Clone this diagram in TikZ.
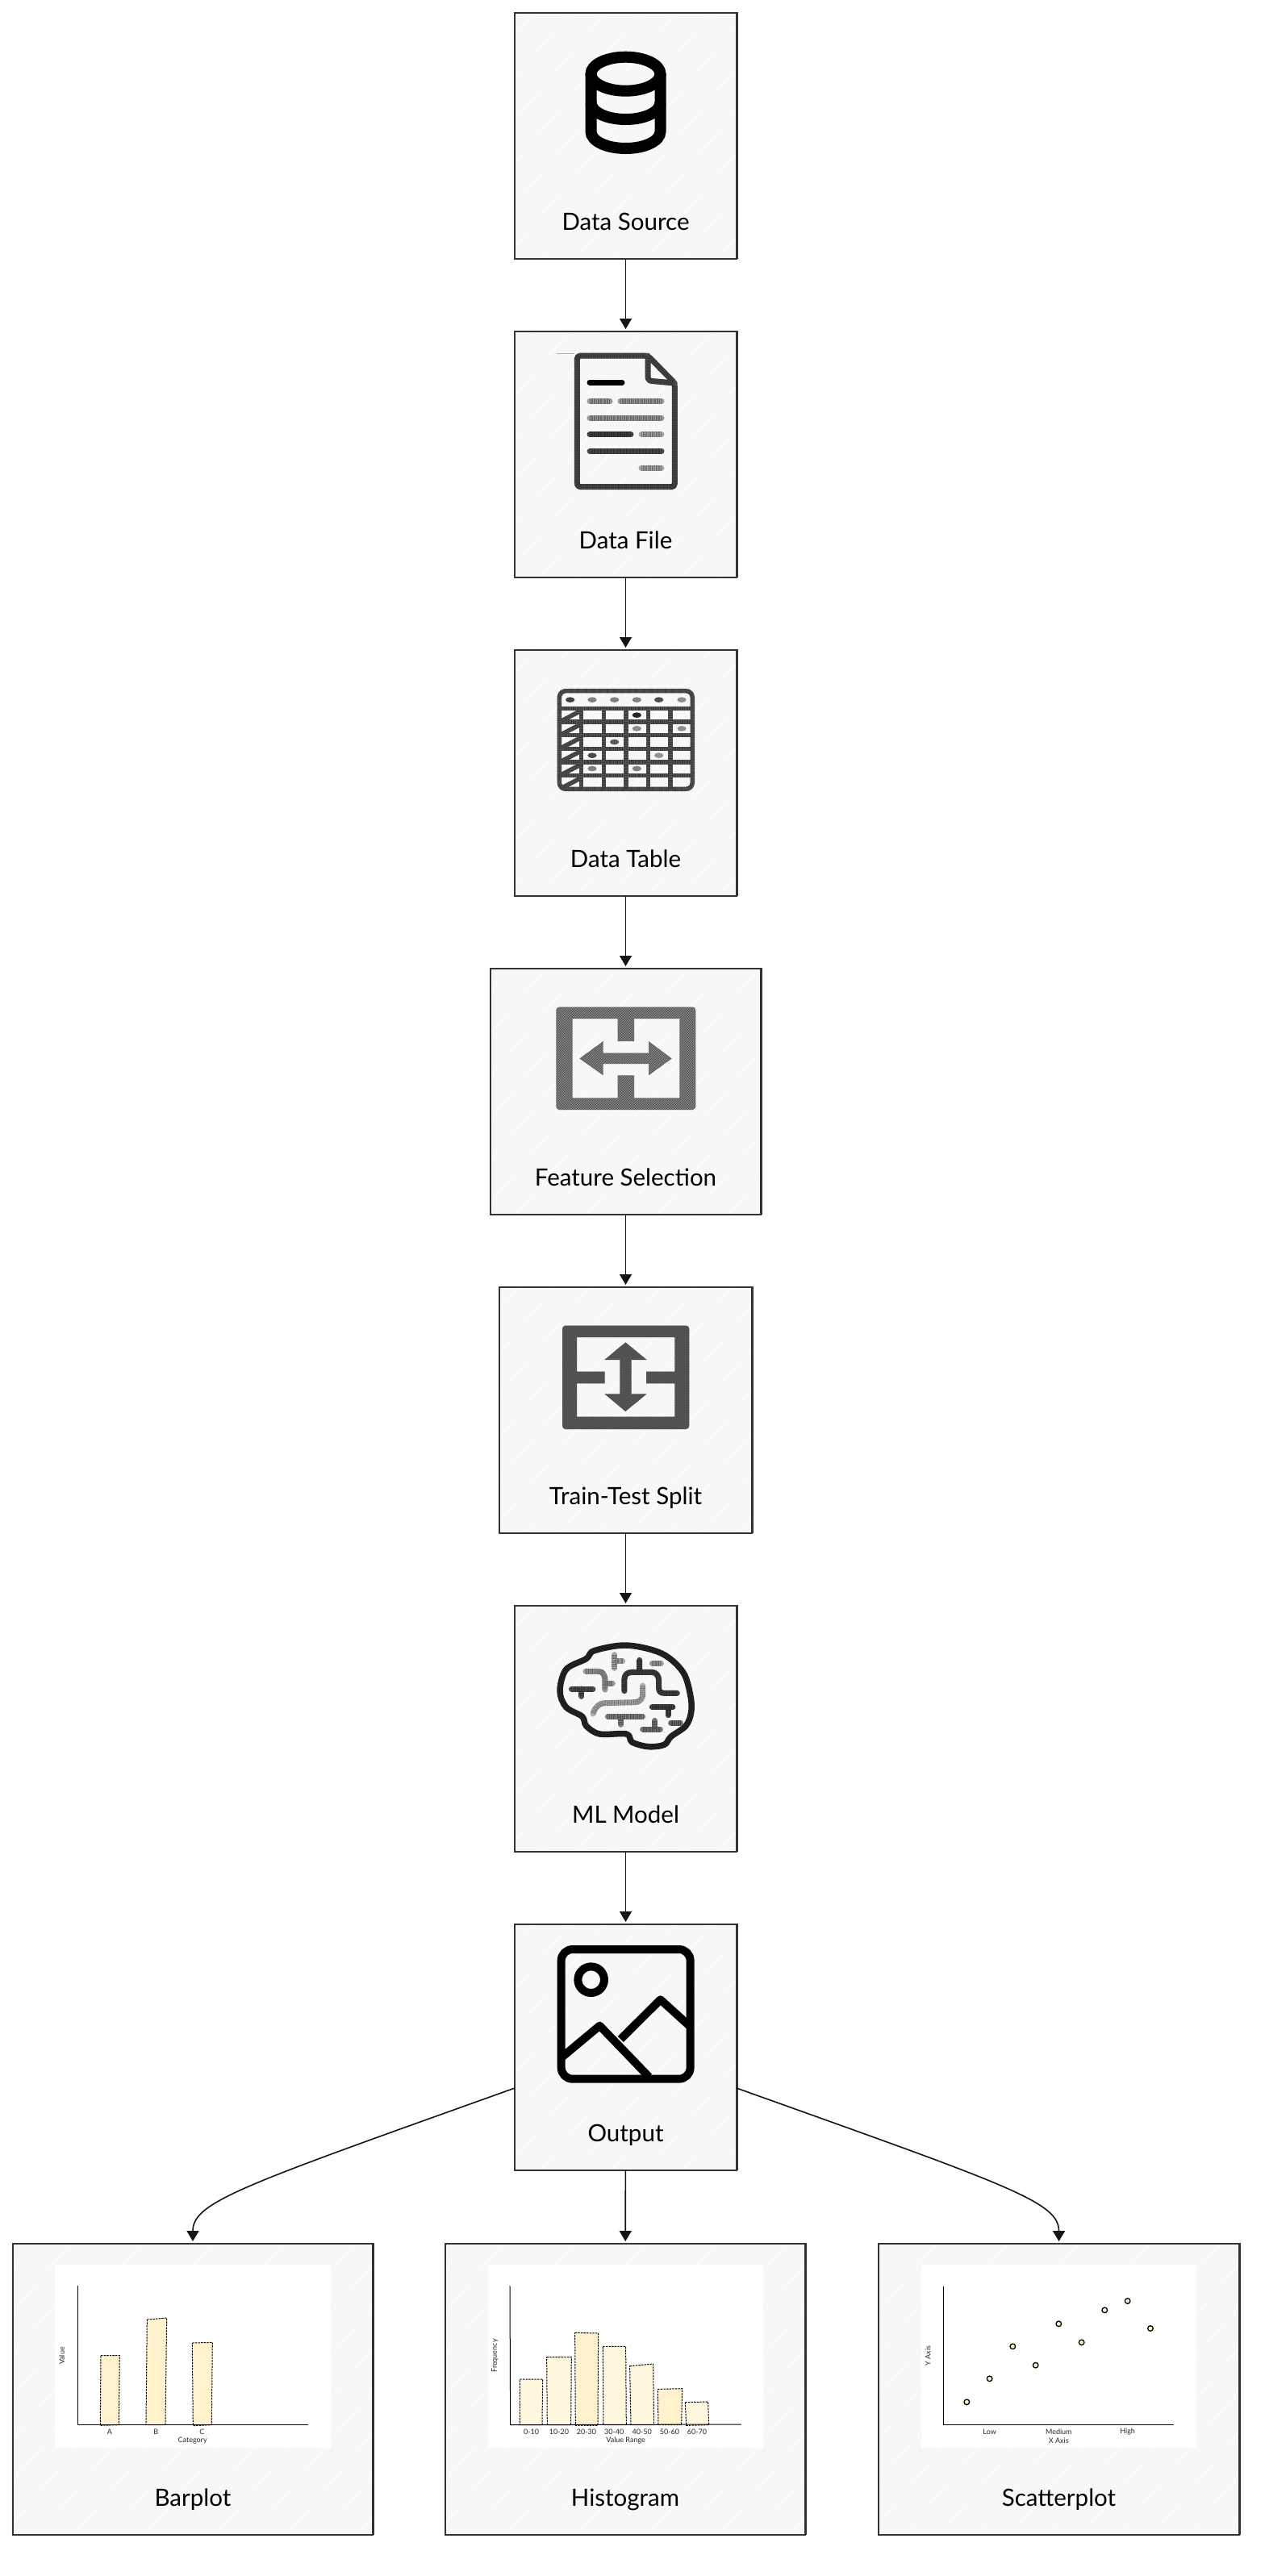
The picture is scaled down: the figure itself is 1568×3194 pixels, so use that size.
\documentclass[tikz,border=0pt]{standalone}
\usepackage{fontspec}
\setmainfont{Lato}
\usetikzlibrary{arrows.meta,patterns}
\definecolor{panelgray}{RGB}{247,247,247}
\definecolor{framegray}{RGB}{51,51,51}
\definecolor{barcream}{RGB}{255,242,204}
\definecolor{barpale}{RGB}{255,247,222}
\definecolor{inkgray}{RGB}{85,85,85}
\tikzset{
    panel/.style     = {fill=panelgray, inner sep=0pt, outer sep=0pt},
    frameline/.style = {draw=framegray, line width=2pt},
    hatchline/.style = {draw=white, line width=1.5pt, opacity=0.75},
    caption/.style   = {anchor=base, inner sep=0pt, font=\fontsize{29.5}{34}\selectfont, text=black},
    tinylabel/.style = {inner sep=0pt, font=\fontsize{9}{11}\selectfont, text=black!85},
    link/.style      = {draw=black!92, line width=1.6pt, shorten >=3pt, -{Triangle[length=13pt,width=15pt]}},
    inkline/.style   = {draw=#1, line width=7pt, line cap=round, line join=round,
                        postaction={draw=black, opacity=0.3, line cap=butt, dash pattern=on 0.9pt off 0.7pt}},
    inkfill/.style   = {preaction={fill=#1}, pattern=north east lines, pattern color=black!70},
    bigstroke/.style = {draw=black, line width=#1, line join=round},
    axisline/.style  = {draw=black, line width=1pt},
    barshape/.style  = {fill=#1, draw=black, line width=1pt, dash pattern=on 2.4pt off 1.2pt},
    scatterdot/.style= {fill=barcream, draw=black, line width=1.3pt},
    zoomgrid/.style  = {x=0.3333pt, y=-0.3333pt},
}
\newcommand{\sketchpanel}[1]{%
    \begin{scope}
        \clip (#1.north west) rectangle (#1.south east);
        \foreach \offs in {0,44,...,1000}
            \draw[hatchline] ([xshift=\offs pt-320pt]#1.south west) -- ++(320,-381);
    \end{scope}
    \draw[frameline] (#1.north west) rectangle (#1.south east);
    \draw[frameline, line width=1.2pt] ([yshift=0.8pt]#1.north west) -- ([yshift=0.8pt,xshift=1pt]#1.north east)
                                       -- ([xshift=1pt]#1.south east);
}
\begin{document}
\begin{tikzpicture}[x=1pt, y=-1pt]
    \useasboundingbox (0,0) rectangle (1568,3194);
    \fill[white] (0,0) rectangle (1568,3194);

    % boxes
    \node[panel, minimum width=275pt, minimum height=305pt] (source)  at ( 775.5, 168.5) {};
    \node[panel, minimum width=275pt, minimum height=305pt] (file)    at ( 775.5, 563.5) {};
    \node[panel, minimum width=275pt, minimum height=305pt] (table)   at ( 775.5, 958.5) {};
    \node[panel, minimum width=335pt, minimum height=305pt] (feature) at ( 775.5,1353.5) {};
    \node[panel, minimum width=313pt, minimum height=305pt] (split)   at ( 775.5,1748.5) {};
    \node[panel, minimum width=275pt, minimum height=305pt] (model)   at ( 775.5,2143.5) {};
    \node[panel, minimum width=275pt, minimum height=305pt] (output)  at ( 775.5,2538.5) {};
    \node[panel, minimum width=446pt, minimum height=361pt] (barplot) at ( 239.0,2962.5) {};
    \node[panel, minimum width=446pt, minimum height=361pt] (hist)    at ( 775.0,2962.5) {};
    \node[panel, minimum width=447pt, minimum height=361pt] (scatter) at (1312.5,2962.5) {};
    \sketchpanel{source}  \sketchpanel{file}  \sketchpanel{table}  \sketchpanel{feature} \sketchpanel{split}
    \sketchpanel{model}   \sketchpanel{output} \sketchpanel{barplot} \sketchpanel{hist}  \sketchpanel{scatter}

    \node[caption] (sourcetxt)  at ([yshift=36pt]source.south)  {Data Source};
    \node[caption] (filetxt)    at ([yshift=36pt]file.south)    {Data File};
    \node[caption] (tabletxt)   at ([yshift=36pt]table.south)   {Data Table};
    \node[caption] (featuretxt) at ([yshift=36pt]feature.south) {Feature Selection};
    \node[caption] (splittxt)   at ([yshift=36pt]split.south)   {Train-Test Split};
    \node[caption] (modeltxt)   at ([yshift=36pt]model.south)   {ML Model};
    \node[caption] (outputtxt)  at ([yshift=36pt]output.south)  {Output};
    \node[caption] (bartxt)     at ([yshift=36pt]barplot.south) {Barplot};
    \node[caption] (histtxt)    at ([yshift=36pt]hist.south)    {Histogram};
    \node[caption] (scattertxt) at ([yshift=36pt]scatter.south) {Scatterplot};

    % connectors
    \draw[link] (source)  -- (file);
    \draw[link] (file)    -- (table);
    \draw[link] (table)   -- (feature);
    \draw[link] (feature) -- (split);
    \draw[link] (split)   -- (model);
    \draw[link] (model)   -- (output);
    \draw[link] (output)  -- (hist);
    \draw[link] ([yshift=-50.5pt]output.west) .. controls ( 300,2710) and ( 239,2730) .. (barplot.north);
    \draw[link] ([yshift=-50.5pt]output.east) .. controls (1251,2710) and (1312.5,2730) .. (scatter.north);

    % database icon
    \begin{scope}[line width=14pt, draw=black]
        \draw (775.5,91.7) ellipse [x radius=43, y radius=21];
        \draw (732.5,91.7) -- (732.5,163) .. controls (732.5,175) and (752,184) .. (775.5,184)
              .. controls (799,184) and (818.5,175) .. (818.5,163) -- (818.5,91.7);
        \draw (732.5,127) .. controls (732.5,139) and (752,148) .. (775.5,148)
              .. controls (799,148) and (818.5,139) .. (818.5,127);
    \end{scope}

    % document icon
    \draw[inkline=black!70, line cap=butt, rounded corners=4pt] (715.3,441) -- (803,441) -- (836.3,475) -- (836.3,603.7) -- (715.3,603.7) -- cycle;
    \draw[inkline=black!70, rounded corners=4pt] (803,441) -- (803,472) -- (836.3,475);
    \draw[draw=black!30, line width=1pt] (690,438) -- (712,438);
    \draw[inkline=black]     (731,474)   -- (771,474);
    \draw[inkline=gray!80]   (731,497.3) -- (756,497.3);
    \draw[inkline=gray!80]   (769,497.3) -- (820,497.3);
    \draw[inkline=gray!80]   (731,518)   -- (820,518);
    \draw[inkline=black!75]  (731,538.7) -- (782,538.7);
    \draw[inkline=gray!70]   (795,538.7) -- (820,538.7);
    \draw[inkline=black!70]  (731,559.3) -- (820,559.3);
    \draw[inkline=gray!70]   (795,580)   -- (820,580);

    % table icon
    \begin{scope}[shift={(620,800)}, zoomgrid]
        \tikzset{gridline/.style={draw=inkgray, line width=5.5pt, postaction={draw=black, opacity=0.3, dash pattern=on 0.9pt off 0.9pt}}}
        \draw[gridline, rounded corners=8pt] (220,170) rectangle (715,535);
        \foreach \rowy in {235,285,335,385,435,485} {
            \draw[gridline] (220,\rowy) -- (715,\rowy);
            \draw[gridline] (225,\rowy+48) -- (298,\rowy+10);
        }
        \foreach \colx in {302,385,468,550,633}
            \draw[gridline] (\colx,235) -- (\colx,535);
        \foreach \dotx/\doty/\dotc in {260/203/black!75, 342/203/gray, 425/203/gray, 508/203/gray, 590/203/black!70, 675/203/gray!90,
                                       508/260/black!85, 508/310/gray!90, 675/310/gray!90, 425/360/black!65,
                                       342/410/black!70, 590/410/gray!85, 342/459/gray, 508/459/gray}
            \fill[\dotc] (\dotx,\doty) ellipse [x radius=17, y radius=10];
    \end{scope}

    % feature selection icon
    \fill[inkfill=gray, even odd rule, rounded corners=4pt] (689.3,1248.5) rectangle (862.3,1376)
        [sharp corners] (709.7,1263) -- (765.7,1263) -- (765.7,1291) -- (786,1291) -- (786,1263) -- (842.3,1263)
        -- (842.3,1361.4) -- (786,1361.4) -- (786,1333.3) -- (765.7,1333.3) -- (765.7,1361.4) -- (709.7,1361.4) -- cycle;
    \fill[inkfill=gray] (718.3,1312.5) -- (747.7,1291) -- (747.7,1305.7) -- (804,1305.7) -- (804,1291) -- (832.7,1312.5)
        -- (804,1333.3) -- (804,1319) -- (747.7,1319) -- (747.7,1333.3) -- cycle;

    % split icon
    \fill[inkfill=inkgray, even odd rule, rounded corners=4pt] (697,1643.5) rectangle (854.3,1772)
        [sharp corners] (715,1658) -- (836.3,1658) -- (836.3,1700.7) -- (801,1700.7) -- (801,1715.3) -- (836.3,1715.3)
        -- (836.3,1756.5) -- (715,1756.5) -- (715,1715.3) -- (749.7,1715.3) -- (749.7,1700.7) -- (715,1700.7) -- cycle;
    \fill[inkfill=inkgray] (775.3,1664.4) -- (801.7,1686) -- (782.7,1686) -- (782.7,1728.3) -- (801.7,1728.3) -- (775.3,1750)
        -- (749.3,1728.3) -- (768.3,1728.3) -- (768.3,1686) -- (749.3,1686) -- cycle;

    % brain icon
    \begin{scope}[shift={(620,2000)}, zoomgrid]
        \draw[draw=black!88, line width=7.5pt, line join=round] plot[smooth cycle, tension=0.55] coordinates {
            (470,120) (600,150) (680,220) (708,310) (710,370) (690,420) (635,460) (610,490) (550,497) (490,480)
            (470,450) (370,450) (320,420) (305,385) (245,350) (222,290) (245,210) (320,170) (350,140)};
        \draw[inkline=black!70] (265,282) -- (345,282)  (303,282) -- (303,310);
        \draw[inkline=gray!80]  (318,217) -- (365,217) .. controls (385,217) and (390,235) .. (390,250) -- (390,285)  (390,262) -- (418,262);
        \draw[inkline=gray!70]  (425,155) -- (425,205)  (425,178) -- (455,178);
        \draw[inkline=black!75] (462,290) -- (462,245) .. controls (462,228) and (475,220) .. (490,220) -- (565,220)
                                .. controls (580,220) and (590,235) .. (590,250) -- (590,280) .. controls (590,292) and (597,298) .. (610,298) -- (658,298)
                                (518,175) -- (518,218);
        \draw[inkline=gray!80]  (565,188) -- (598,188);
        \draw[inkline=gray!60]  (530,270) -- (530,305) .. controls (530,322) and (515,332) .. (500,332) -- (385,335) .. controls (365,337) and (350,355) .. (345,375);
        \draw[inkline=black!50] (400,385) -- (530,385)  (450,385) -- (450,415);
        \draw[inkline=black!75] (565,350) -- (642,350)  (625,350) -- (625,380);
        \draw[inkline=black!55] (530,432) -- (595,432)  (575,432) -- (575,400);
        \draw[inkline=black!60] (635,408) -- (670,408);
    \end{scope}

    % image icon
    \begin{scope}[shift={(620,2400)}, zoomgrid]
        \draw[bigstroke=10pt, rounded corners=14pt] (227,51) rectangle (707,533);
        \draw[bigstroke=10pt] (338,164) circle (16.3pt);
        \draw[bigstroke=10pt] (232,450) -- (370,335) -- (553,525);
        \draw[bigstroke=10pt] (448,385) -- (596,238) -- (703,335);
    \end{scope}

    % barplot
    \begin{scope}[shift={(0,2790)}, zoomgrid]
        \fill[white] (204,54) rectangle (1230,735);
        \draw[barshape=barcream] (375,392) -- (445,392) -- (442,650) -- (373,652) -- cycle;
        \draw[barshape=barcream] (547,258) -- (620,252) -- (615,650) -- (543,650) -- cycle;
        \draw[barshape=barcream] (715,345) -- (790,343) -- (787,650) -- (718,653) -- cycle;
        \draw[axisline] (289,133) -- (289,650) -- (1145,650);
        \node[tinylabel] (barA) at (408,676) {A};
        \node[tinylabel] (barB) at (580,676) {B};
        \node[tinylabel] (barC) at (751,676) {C};
        \node[tinylabel] (barx) at (716,709) {Category};
        \node[tinylabel, rotate=90] (bary) at (230,393) {Value};
    \end{scope}

    % histogram
    \begin{scope}[shift={(540,2790)}, zoomgrid]
        \fill[white] (195,54) rectangle (1218,735);
        \draw[barshape=barpale]  (313,480) -- (398,480) -- (396,650) -- (313,650) -- cycle;
        \draw[barshape=barpale]  (413,398) -- (505,398) -- (503,650) -- (415,650) -- cycle;
        \draw[barshape=barcream] (518,307) -- (605,309) -- (603,652) -- (520,652) -- cycle;
        \draw[barshape=barpale]  (622,358) -- (707,358) -- (709,650) -- (624,650) -- cycle;
        \draw[barshape=barpale]  (722,431) -- (809,423) -- (812,650) -- (726,650) -- cycle;
        \draw[barshape=barcream] (826,517) -- (917,515) -- (914,650) -- (828,650) -- cycle;
        \draw[barshape=barpale]  (928,566) -- (1013,564) -- (1016,650) -- (932,652) -- cycle;
        \draw[axisline] (276,133) -- (278,650) -- (1137,648);
        \node[tinylabel] (histA) at (356,676) {0-10};
        \node[tinylabel] (histB) at (459,676) {10-20};
        \node[tinylabel] (histC) at (561,676) {20-30};
        \node[tinylabel] (histD) at (664,676) {30-40};
        \node[tinylabel] (histE) at (767,676) {40-50};
        \node[tinylabel] (histF) at (870,676) {50-60};
        \node[tinylabel] (histG) at (972,676) {60-70};
        \node[tinylabel] (histx) at (707,709) {Value Range};
        \node[tinylabel, rotate=90] (histy) at (220,393) {Frequency};
    \end{scope}

    % scatterplot
    \begin{scope}[shift={(1070,2790)}, zoomgrid]
        \fill[white] (216,54) rectangle (1238,735);
        \draw[axisline] (298,135) -- (298,650) -- (1155,650);
        \foreach \dotx/\doty in {385/565, 470/478, 556/358, 641/428, 727/274, 812/343, 898/223, 983/189, 1068/291}
            \draw[scatterdot] (\dotx,\doty) circle (3.3pt);
        \node[tinylabel] (scatterA) at (470,676) {Low};
        \node[tinylabel] (scatterB) at (727,676) {Medium};
        \node[tinylabel] (scatterC) at (983,676) {High};
        \node[tinylabel] (scatterx) at (727,708) {X Axis};
        \node[tinylabel, rotate=90] (scattery) at (240,393) {Y Axis};
    \end{scope}
\end{tikzpicture}
\end{document}
